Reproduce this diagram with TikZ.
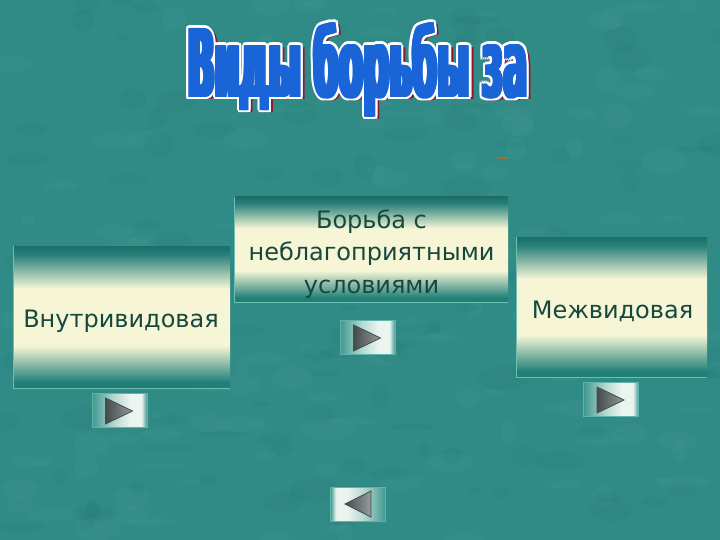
\documentclass[tikz,border=0pt]{standalone}
\usepackage{fontspec}
\usepackage{graphicx}
\setmainfont{DejaVu Sans}
\definecolor{bgteal}{RGB}{48,138,133}
\definecolor{bglight}{RGB}{90,170,165}
\definecolor{bgdark}{RGB}{30,110,108}
\definecolor{boxtop}{RGB}{40,128,122}
\definecolor{boxtopdark}{RGB}{28,110,106}
\definecolor{boxbot}{RGB}{32,128,120}
\definecolor{boxedge}{RGB}{110,190,180}
\definecolor{cream}{RGB}{246,246,214}
\definecolor{boxtext}{RGB}{22,72,62}
\definecolor{titleblue}{RGB}{25,100,215}
\definecolor{titleshadow}{RGB}{140,25,45}
\definecolor{btnteal}{RGB}{62,152,144}
\definecolor{btnwhite}{RGB}{236,244,240}
\definecolor{btnedge}{RGB}{95,180,170}
\definecolor{trilight}{RGB}{150,155,155}
\definecolor{tridark}{RGB}{70,75,75}
\definecolor{dashbrown}{RGB}{165,110,45}
\pgfdeclareverticalshading{boxshade}{100bp}{color(0bp)=(boxbot); color(25bp)=(boxbot); color(27bp)=(boxbot); color(40bp)=(cream); color(60bp)=(cream); color(72bp)=(boxtop); color(75bp)=(boxtopdark); color(100bp)=(boxtopdark)}
\pgfdeclarehorizontalshading{btnshade}{100bp}{color(0bp)=(btnteal); color(25bp)=(btnteal); color(45bp)=(btnwhite!70!btnteal); color(60bp)=(btnwhite); color(70bp)=(btnwhite); color(75bp)=(btnteal); color(100bp)=(btnteal)}
\newcommand{\ttltext}{\resizebox{340pt}{75pt}{\bfseries Виды борьбы за}}
\begin{document}
\begin{tikzpicture}[x=1pt,y=-1pt,
  bigbox/.style={rectangle, inner sep=0pt, shading=boxshade},
  boxlabel/.style={inner sep=0pt, text=boxtext, font=\fontsize{24}{32.5}\selectfont, align=center},
  btn/.style={rectangle, inner sep=0pt, minimum width=55pt, minimum height=34pt, shading=btnshade, draw=btnedge, line width=0.8pt},
  tri/.style={draw=tridark, line width=0.8pt, left color=tridark, right color=trilight},
  titlelayer/.style={inner sep=0pt, anchor=base west},
  speck/.style={fill opacity=0.10}
]
\useasboundingbox (0,0) rectangle (720,540);
\fill[bgteal] (0,0) rectangle (720,540);
% mottled background texture
\pgfmathsetseed{4217}
\foreach \k in {1,...,260}{
  \pgfmathsetmacro{\px}{random(0,720)}
  \pgfmathsetmacro{\py}{random(0,540)}
  \pgfmathsetmacro{\rx}{random(6,26)}
  \pgfmathsetmacro{\ry}{random(3,12)}
  \pgfmathsetmacro{\tone}{random(0,1)}
  \ifdim\tone pt>0.5pt
    \fill[speck, bglight] (\px,\py) ellipse ({\rx} and {\ry});
  \else
    \fill[speck, bgdark] (\px,\py) ellipse ({\rx} and {\ry});
  \fi
}

% title: dark red shadow, white outline, thickened blue letters
\foreach \dx [count=\i] in {-2.5,0,2.5,5}
  \node[titlelayer, text=titleshadow] (tshadow\i) at (189+\dx,99.5) {\ttltext};
\foreach \dx/\dy [count=\i] in {-4.5/0, 4.5/0, -2.4/-2.5, 0/-2.5, 2.4/-2.5, -2.4/2.5, 0/2.5, 2.4/2.5, -4/-1.8, 4/-1.8, -4/1.8, 4/1.8}
  \node[titlelayer, text=white] (twhite\i) at (187.5+\dx,97.5+\dy) {\ttltext};
\foreach \dx [count=\i] in {-2.4,-1.6,-0.8,0,0.8,1.6,2.4}
  \node[titlelayer, text=titleblue] (tblue\i) at (187.5+\dx,97.5) {\ttltext};

% small mark
\node[inner sep=0pt] (mark) at (502,158) {\textcolor{dashbrown}{\rule{11pt}{2pt}}};

% boxes
\node[bigbox, minimum width=216pt, minimum height=142pt] (intra) at (122,317) {};
\draw[boxedge, line width=0.8pt] (intra.north west) -- (intra.south west) -- (intra.south east);
\node[boxlabel, anchor=base] (intraT) at (121,327) {Внутривидовая};

\node[bigbox, minimum width=273pt, minimum height=105pt] (abio) at (371.5,249.5) {};
\draw[boxedge, line width=0.8pt] (abio.north west) -- (abio.south west) -- (abio.south east);
\node[boxlabel, anchor=center] (abioT) at (371.5,254) {Борьба с\\неблагоприятными\\условиями};

\node[bigbox, minimum width=190pt, minimum height=140pt] (inter) at (612,307) {};
\draw[boxedge, line width=0.8pt] (inter.north west) -- (inter.south west) -- (inter.south east);
\node[boxlabel, anchor=base] (interT) at (612.5,318) {Межвидовая};

% buttons
\node[btn] (b1) at (119.5,410) {};
\draw[tri] ([shift={(-14,-12)}]b1.center) -- ([shift={(-14,14)}]b1.center) -- ([shift={(13,1)}]b1.center) -- cycle;
\node[btn] (b2) at (367.5,337) {};
\draw[tri] ([shift={(-14,-12)}]b2.center) -- ([shift={(-14,14)}]b2.center) -- ([shift={(13,1)}]b2.center) -- cycle;
\node[btn] (b3) at (611,399) {};
\draw[tri] ([shift={(-14,-12)}]b3.center) -- ([shift={(-14,14)}]b3.center) -- ([shift={(13,1)}]b3.center) -- cycle;
\node[btn, shading angle=180] (back) at (358,504) {};
\draw[tri] ([shift={(13,-13)}]back.center) -- ([shift={(13,13)}]back.center) -- ([shift={(-13,0)}]back.center) -- cycle;
\end{tikzpicture}
\end{document}
